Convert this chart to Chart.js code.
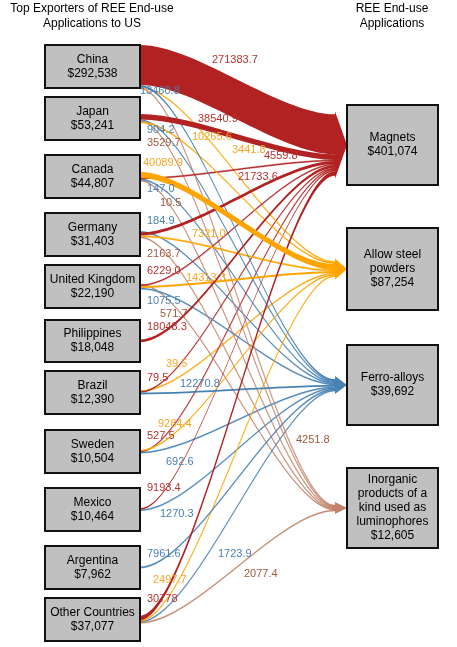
<!DOCTYPE html>
<html><head><meta charset="utf-8">
<script src="https://cdn.jsdelivr.net/npm/chart.js@4"></script>
<style>html,body{margin:0;background:#fff}#wrap{width:457px;height:647px}</style>
</head><body><div id="wrap"><canvas id="c"></canvas></div>
<script>
// ---- data ----
const sources = ["China", "Japan", "Canada", "Germany", "United Kingdom", "Philippines", "Brazil", "Sweden", "Mexico", "Argentina", "Other Countries"];
const sourceTotals = ["$292,538", "$53,241", "$44,807", "$31,403", "$22,190", "$18,048", "$12,390", "$10,504", "$10,464", "$7,962", "$37,077"];
const targets = ["Magnets", "Allow steel powders", "Ferro-alloys", "Inorganic products of a kind used as luminophores"];
const targetTotals = ["$401,074", "$87,254", "$39,692", "$12,605"];
// flows: source index, target index, value
const flowSrc = [0, 0, 0, 0, 1, 1, 1, 1, 2, 2, 2, 2, 3, 3, 3, 3, 4, 4, 4, 4, 5, 6, 6, 6, 7, 7, 7, 8, 8, 9, 10, 10, 10, 10];
const flowTgt = [0, 2, 1, 3, 0, 2, 3, 1, 1, 0, 2, 3, 2, 0, 1, 3, 3, 0, 1, 2, 0, 1, 0, 2, 1, 0, 2, 0, 2, 2, 0, 1, 2, 3];
const flowVal = [271383.7, 13460.8, 3441.8, 4251.8, 38540.9, 904.2, 3529.7, 10265.6, 40089.9, 4559.8, 147.0, 10.5,
  184.9, 21733.6, 7321.0, 2163.7, 571.7, 6229.0, 14313.3, 1075.5, 18048.3, 39.5, 79.5, 12270.8,
  9284.4, 527.5, 692.6, 9193.4, 1270.3, 7961.6, 30778, 2497.7, 1723.9, 2077.4];

// ---- layout / style ----
const tColors = ["#b22222", "#ffa500", "#4682b4", "#c0826a"];
const lColors = ["#b8322f", "#f5a623", "#4a7fb5", "#a0583c"];
const srcBoxes = [[45, 88], [97, 140], [155, 198], [213, 256], [265, 308], [320, 362], [371, 414], [430, 473], [488, 531], [546, 589], [598, 641]];
const tgtBoxes = [[105, 185], [228, 310], [345, 425], [468, 548]];
const labelPos = [[212, 60], [140, 91], [232, 150], [296, 440], [198, 119], [147, 130], [147, 143], [192, 137],
  [143, 163], [264, 156], [147, 189], [160, 203], [147, 221], [238, 177], [192, 234], [147, 254],
  [160, 314], [147, 271], [186, 278], [147, 301], [147, 327], [166, 364], [147, 378], [180, 384],
  [158, 424], [147, 436], [166, 462], [147, 488], [160, 514], [147, 554], [147, 599], [153, 580], [218, 554], [244, 574]];
const K = 6800;
const X0 = 140, X1 = 335, XT = 347;

const sankey = {
  id: "sankey",
  afterDatasetsDraw(chart) {
    const ctx = chart.ctx, sx = chart.scales.x, sy = chart.scales.y;
    const px = v => sx.getPixelForValue(v), py = v => sy.getPixelForValue(v);
    const w = v => Math.max(1, v / K);
    const srcSum = sources.map((s, i) => flowVal.reduce((a, v, k) => a + (flowSrc[k] === i ? w(v) : 0), 0));
    const srcOff = sources.map((s, i) => Math.max(srcBoxes[i][0], (srcBoxes[i][0] + srcBoxes[i][1]) / 2 - srcSum[i] / 2));
    const tgtSum = targets.map((t, j) => flowVal.reduce((a, v, k) => a + (flowTgt[k] === j ? w(v) : 0), 0));
    const tgtOff = targets.map((t, j) => (tgtBoxes[j][0] + tgtBoxes[j][1]) / 2 - tgtSum[j] / 2);
    const geo = flowVal.map((v, k) => {
      const s = flowSrc[k], t = flowTgt[k], ww = w(v);
      const y0 = srcOff[s]; srcOff[s] += ww;
      const y1 = tgtOff[t]; tgtOff[t] += ww;
      return [y0, y1, ww];
    });
    const order = flowVal.map((v, k) => k).sort((a, b) => flowVal[a] - flowVal[b]);
    const cx = 55;
    order.forEach(k => {
      const [y0, y1, ww] = geo[k];
      ctx.beginPath();
      ctx.moveTo(px(X0), py(y0));
      ctx.bezierCurveTo(px(X0 + cx), py(y0), px(X1 - cx), py(y1), px(X1), py(y1));
      ctx.lineTo(px(X1), py(y1 + ww));
      ctx.bezierCurveTo(px(X1 - cx), py(y1 + ww), px(X0 + cx), py(y0 + ww), px(X0), py(y0 + ww));
      ctx.closePath();
      ctx.fillStyle = tColors[flowTgt[k]];
      ctx.fill();
      if (ww <= 1.2) { ctx.strokeStyle = tColors[flowTgt[k]]; ctx.lineWidth = 0.5; ctx.stroke(); }
    });
    targets.forEach((t, j) => {
      const mid = (tgtBoxes[j][0] + tgtBoxes[j][1]) / 2, h = tgtSum[j] / 2 + 3;
      ctx.beginPath();
      ctx.moveTo(px(X1), py(mid - h)); ctx.lineTo(px(XT), py(mid)); ctx.lineTo(px(X1), py(mid + h));
      ctx.closePath(); ctx.fillStyle = tColors[j]; ctx.fill();
    });
    ctx.font = "11px Arial, 'Liberation Sans'";
    ctx.textBaseline = "middle"; ctx.textAlign = "left";
    flowVal.forEach((v, k) => {
      ctx.fillStyle = lColors[flowTgt[k]];
      ctx.fillText(v === 30778 ? String(v) : v.toFixed(1), px(labelPos[k][0]), py(labelPos[k][1]));
    });
    const box = (x0, x1, b, lines) => {
      ctx.fillStyle = "#c0c0c0"; ctx.strokeStyle = "#111"; ctx.lineWidth = 2;
      ctx.fillRect(px(x0), py(b[0]), px(x1) - px(x0), py(b[1]) - py(b[0]));
      ctx.strokeRect(px(x0), py(b[0]), px(x1) - px(x0), py(b[1]) - py(b[0]));
      ctx.fillStyle = "#000"; ctx.font = "12px Arial, 'Liberation Sans'"; ctx.textAlign = "center";
      const mid = (b[0] + b[1]) / 2, lh = 14;
      lines.forEach((l, i) => ctx.fillText(l, px((x0 + x1) / 2), py(mid + (i - (lines.length - 1) / 2) * lh)));
    };
    sources.forEach((s, i) => box(45, 140, srcBoxes[i], [s, sourceTotals[i]]));
    const tLines = [["Magnets"], ["Allow steel", "powders"], ["Ferro-alloys"], ["Inorganic", "products of a", "kind used as", "luminophores"]];
    targets.forEach((t, j) => box(347, 438, tgtBoxes[j], [...tLines[j], targetTotals[j]]));
    ctx.font = "12px Arial, 'Liberation Sans'"; ctx.fillStyle = "#000";
    ctx.fillText("Top Exporters of REE End-use", px(92), py(9));
    ctx.fillText("Applications to US", px(92), py(24));
    ctx.fillText("REE End-use", px(392), py(9));
    ctx.fillText("Applications", px(392), py(24));
  }
};

new Chart(document.getElementById("c"), {
  type: "scatter",
  data: { datasets: [{ data: [] }] },
  options: {
    responsive: true, maintainAspectRatio: false, animation: false,
    layout: { padding: 0 },
    plugins: { legend: { display: false }, tooltip: { enabled: false } },
    scales: {
      x: { type: "linear", min: 0, max: 457, display: false },
      y: { type: "linear", min: 0, max: 647, reverse: true, display: false }
    }
  },
  plugins: [sankey]
});
</script></body></html>
